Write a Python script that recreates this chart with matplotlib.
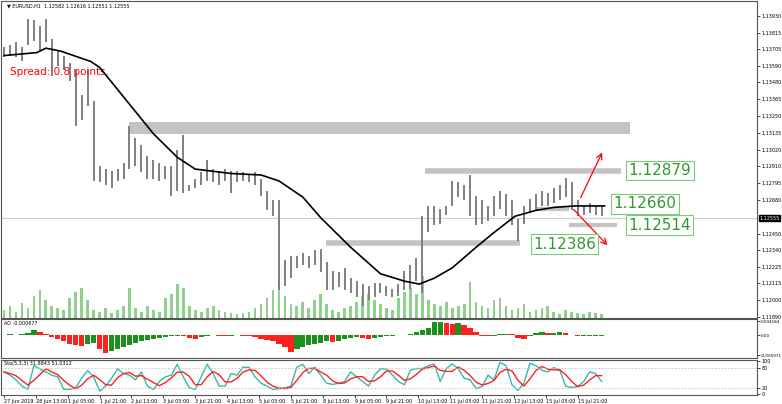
import numpy as np
import pandas as pd
import matplotlib
matplotlib.use("Agg")
import matplotlib.pyplot as plt
from matplotlib.patches import Rectangle

# EURUSD H1 bars (highs / lows)
highs = [1.1372, 1.1373, 1.1375, 1.1372, 1.1391, 1.1390, 1.1386, 1.1391, 1.1377, 1.1369,
         1.1366, 1.1361, 1.1356, 1.1339, 1.1357, 1.1335, 1.1291, 1.1289, 1.1288, 1.1289,
         1.1293, 1.1318, 1.1310, 1.1305, 1.1298, 1.1295, 1.1293, 1.1291, 1.1291, 1.1302,
         1.1312, 1.1278, 1.1282, 1.1287, 1.1295, 1.1289, 1.1288, 1.1289, 1.1288, 1.1288,
         1.1287, 1.1286, 1.1287, 1.1282, 1.1274, 1.1268, 1.1268, 1.1227, 1.1230, 1.1230,
         1.1232, 1.1230, 1.1234, 1.1235, 1.1226, 1.1220, 1.1219, 1.1222, 1.1215, 1.1213,
         1.1211, 1.1210, 1.1212, 1.1212, 1.1210, 1.1208, 1.1211, 1.1220, 1.1224, 1.1229,
         1.1257, 1.1264, 1.1264, 1.1262, 1.1264, 1.1281, 1.1280, 1.1278, 1.1285, 1.1271,
         1.1268, 1.1264, 1.1271, 1.1274, 1.1272, 1.1268, 1.1255, 1.1264, 1.1269, 1.1272,
         1.1274, 1.1273, 1.1276, 1.1278, 1.1283, 1.1280, 1.1268, 1.1264, 1.1266, 1.1264,
         1.1264]
lows = [1.1365, 1.1366, 1.1365, 1.1362, 1.1373, 1.1376, 1.1369, 1.1375, 1.1352, 1.1359,
        1.1356, 1.1349, 1.1318, 1.1322, 1.1332, 1.1281, 1.1280, 1.1278, 1.1276, 1.1281,
        1.1282, 1.1289, 1.1291, 1.1287, 1.1282, 1.1282, 1.1281, 1.1282, 1.1271, 1.1274,
        1.1273, 1.1274, 1.1276, 1.1278, 1.1281, 1.1280, 1.1278, 1.1281, 1.1273, 1.1280,
        1.1281, 1.1280, 1.1278, 1.1271, 1.1261, 1.1257, 1.1207, 1.1210, 1.1215, 1.1222,
        1.1224, 1.1222, 1.1224, 1.1219, 1.1207, 1.1207, 1.1209, 1.1207, 1.1205, 1.1202,
        1.1196, 1.1200, 1.1202, 1.1205, 1.1203, 1.1202, 1.1203, 1.1207, 1.1208, 1.1213,
        1.1205, 1.1246, 1.1251, 1.1252, 1.1258, 1.1264, 1.1270, 1.1268, 1.1257, 1.1251,
        1.1252, 1.1254, 1.1257, 1.1262, 1.1257, 1.1251, 1.1240, 1.1252, 1.1259, 1.1261,
        1.1264, 1.1264, 1.1266, 1.1268, 1.1270, 1.1261, 1.1257, 1.1258, 1.1259, 1.1258,
        1.1257]
# moving average, sampled along the curve (bar index, price)
ma_idx = [0, 5.5, 7, 9.5, 14.5, 16, 21, 25, 29, 32, 38, 43, 46, 50, 53, 58, 63, 67,
          69.5, 72, 75, 79, 82, 85.5, 89, 92, 95.5, 100.5]
ma_val = [1.1366, 1.1368, 1.1371, 1.1369, 1.1362, 1.1358, 1.1333, 1.1313, 1.1297, 1.1289,
          1.1286, 1.1285, 1.1281, 1.1270, 1.1256, 1.1236, 1.1218, 1.1213, 1.1211, 1.1215,
          1.1222, 1.1236, 1.1246, 1.1257, 1.1261, 1.1263, 1.1264, 1.1264]
volume = [8, 12, 6, 15, 10, 22, 28, 18, 12, 10, 8, 20, 26, 30, 18, 8, 6, 10, 5, 8,
          12, 30, 10, 6, 12, 8, 6, 20, 24, 34, 30, 12, 8, 6, 10, 12, 8, 6, 5, 4,
          5, 6, 10, 14, 20, 28, 40, 22, 14, 12, 16, 10, 18, 24, 14, 8, 6, 10, 12, 16,
          22, 24, 18, 14, 10, 8, 20, 26, 30, 24, 42, 18, 14, 12, 16, 10, 12, 14, 36, 16,
          12, 10, 18, 20, 12, 8, 10, 14, 6, 8, 10, 12, 6, 4, 8, 6, 5, 4, 6, 5, 4]
ao = [0.0001, 0.0002, 0.0001, 0.0002, 0.0005, 0.0015, 0.0010, 0.0003, -0.0005, -0.0012,
      -0.0018, -0.0025, -0.0030, -0.0033, -0.0025, -0.0022, -0.0040, -0.0052, -0.0048, -0.0042,
      -0.0036, -0.0030, -0.0024, -0.0018, -0.0014, -0.0010, -0.0008, -0.0006, -0.0004, -0.0002,
      -0.0004, -0.0008, -0.0010, -0.0007, -0.0002, 0.0001, -0.0002, -0.0003, -0.0002, -0.0001,
      -0.0002, -0.0004, -0.0006, -0.0010, -0.0014, -0.0018, -0.0026, -0.0034, -0.0050, -0.0042,
      -0.0036, -0.0030, -0.0026, -0.0022, -0.0018, -0.0020, -0.0016, -0.0012, -0.0009, -0.0006,
      -0.0008, -0.0010, -0.0008, -0.0005, -0.0003, -0.0002, -0.0001, -0.0001, 0.0002, 0.0008,
      0.0014, 0.0022, 0.0038, 0.0040, 0.0035, 0.0033, 0.0037, 0.0030, 0.0020, 0.0008,
      -0.0002, -0.0003, -0.0002, 0.0002, 0.0004, 0.0002, -0.0008, -0.0012, -0.0004, 0.0006,
      0.0008, 0.0007, 0.0007, 0.0008, 0.0005, -0.0001, -0.0003, -0.0003, -0.0002, -0.0002,
      -0.0002]
stoch = [68, 58, 44, 25, 15, 87, 77, 68, 58, 53, 15, 15, 20, 49, 72, 53, 10, 25, 49, 77,
         63, 58, 44, 68, 25, 15, 39, 53, 58, 91, 53, 20, 15, 53, 91, 63, 25, 25, 63, 58,
         82, 82, 53, 34, 25, 15, 17, 20, 25, 82, 91, 63, 82, 58, 34, 30, 34, 39, 68, 53,
         39, 25, 58, 77, 77, 58, 39, 29, 73, 78, 78, 87, 92, 39, 78, 92, 78, 49, 44, 17,
         24, 58, 44, 97, 87, 29, 12, 34, 94, 87, 73, 68, 81, 73, 24, 21, 24, 39, 68, 63,
         39]
price_ticks = [1.13930, 1.13815, 1.13705, 1.13590, 1.13480, 1.13365, 1.13250, 1.13135,
               1.13020, 1.12910, 1.12795, 1.12680, 1.12450, 1.12340, 1.12225, 1.12115,
               1.12000, 1.11890]
time_labels = ["27 Jun 2019", "28 Jun 13:00", "1 Jul 05:00", "1 Jul 21:00", "2 Jul 13:00",
               "3 Jul 05:00", "3 Jul 21:00", "4 Jul 13:00", "5 Jul 05:00", "5 Jul 21:00",
               "8 Jul 13:00", "9 Jul 05:00", "9 Jul 21:00", "10 Jul 13:00", "11 Jul 05:00",
               "11 Jul 21:00", "12 Jul 13:00", "15 Jul 05:00", "15 Jul 21:00"]
current = 1.12555
levels = [1.12879, 1.12660, 1.12514, 1.12386]

W, H = 782, 404
fig = plt.figure(figsize=(W / 100, H / 100), dpi=100)
def axpx(x0, y0, x1, y1):
    return fig.add_axes([x0 / W, 1 - y1 / H, (x1 - x0) / W, (y1 - y0) / H])

ax = axpx(1, 1, 757, 318)
ax_ao = axpx(1, 319, 757, 358)
ax_st = axpx(1, 360, 757, 395)

x = np.arange(len(highs))
xlim = (-0.5, 126)
small = 3.5

# volume on a twin axis
axv = ax.twinx()
axv.bar(np.arange(len(volume)), volume, width=0.45, color="#8fd08f", zorder=1)
axv.set_ylim(0, 318)
axv.set_yticks([])
ax.set_zorder(axv.get_zorder() + 1)
ax.patch.set_visible(False)

ax.vlines(x, lows, highs, color="#808080", lw=1.4, zorder=3)
ax.plot(ma_idx, ma_val, color="black", lw=1.2, zorder=4)
ax.add_patch(Rectangle((21, 1.1313), 83.7, 0.0008, color="#c3c3c3", lw=0, zorder=2))
ax.hlines(levels[0], 70.5, 103.3, color="#c3c3c3", lw=4, zorder=2)
ax.hlines(levels[3], 53.8, 86.3, color="#c3c3c3", lw=4, zorder=2)
ax.hlines(1.1262, 88.8, 94.5, color="#c3c3c3", lw=3, zorder=2)
ax.hlines(levels[2], 94.5, 102.5, color="#c3c3c3", lw=3, zorder=2)
ax.axhline(current, color="#d0d0d0", lw=0.8, zorder=1)

box = dict(boxstyle="square,pad=0.15", fc="white", ec="#7cc87c", lw=0.8)
for lx, ly, lv in [(104.5, 1.12879, levels[0]), (102, 1.12655, levels[1]),
                   (104.5, 1.12510, levels[2]), (88.5, 1.12380, levels[3])]:
    ax.text(lx, ly, f"{lv:.5f}", fontsize=11, color="#2f9a2f", va="center",
            ha="left", bbox=box, zorder=6)

arr = dict(arrowstyle="->", color="red", lw=0.9, mutation_scale=10)
ax.annotate("", xy=(100.3, 1.1302), xytext=(96.3, 1.1268), arrowprops=arr)
ax.annotate("", xy=(101.3, 1.1236), xytext=(95, 1.1263), arrowprops=arr)

ax.text(0.008, 0.993, "\u25BC EURUSD,H1  1.12582 1.12616 1.12551 1.12555",
        transform=ax.transAxes, fontsize=small, va="top")
ax.text(1, 1.1355, "Spread: 0.8 points.", color="red", fontsize=7.5, va="center")

ax.set_xlim(xlim)
ax.set_ylim(1.1188, 1.1403)
ax.yaxis.tick_right()
ax.set_yticks(price_ticks)
ax.set_yticklabels([f"{p:.5f}" for p in price_ticks], fontsize=small)
ax.text(1.003, current, f"{current:.5f}", transform=ax.get_yaxis_transform(),
        fontsize=small, color="white", va="center", ha="left",
        bbox=dict(boxstyle="square,pad=0.1", fc="black", ec="black"))
ax.set_xticks([])

# AO
ao = np.array(ao)
ao_col = ["#1f8f1f" if i == 0 or ao[i] >= ao[i - 1] else "#ff2020" for i in range(len(ao))]
ax_ao.bar(np.arange(len(ao)), ao, width=0.9, color=ao_col)
ax_ao.set_xlim(xlim)
ax_ao.set_ylim(-0.0068, 0.0048)
ax_ao.yaxis.tick_right()
ax_ao.set_yticks([0.004184, 0.0, -0.005971])
ax_ao.set_yticklabels(["0.004184", "0.00", "-0.005971"], fontsize=3.0)
ax_ao.set_xticks([])
ax_ao.text(0.004, 0.96, "AO -0.000677", transform=ax_ao.transAxes, fontsize=small, va="top")

# Stochastic
main = pd.Series(stoch, dtype=float)
signal = main.rolling(3, min_periods=1).mean()
ax_st.plot(x, main, color="#35b8b0", lw=1.0)
ax_st.plot(x, signal, color="#ff2020", lw=1.0)
ax_st.axhline(80, color="#c0c0c0", lw=0.6, ls=(0, (2, 2)))
ax_st.axhline(20, color="#c0c0c0", lw=0.6, ls=(0, (2, 2)))
ax_st.set_xlim(xlim)
ax_st.set_ylim(-2, 104)
ax_st.yaxis.tick_right()
ax_st.set_yticks([100, 80, 20, 0])
ax_st.set_yticklabels(["100", "80", "20", "0"], fontsize=small)
ax_st.text(0.004, 0.97, "Sto(5,3,3) 31.8843 51.0312", transform=ax_st.transAxes,
           fontsize=small, va="top")
ax_st.set_xticks([k * 32 / 6 for k in range(len(time_labels))])
ax_st.set_xticklabels(time_labels, fontsize=small, ha="left")

for a in (ax, ax_ao, ax_st):
    a.tick_params(length=2, width=0.5, pad=1)
    for s in a.spines.values():
        s.set_color("#555555")
        s.set_linewidth(0.8)
for s in axv.spines.values():
    s.set_visible(False)

fig.savefig("out.png", dpi=100)
